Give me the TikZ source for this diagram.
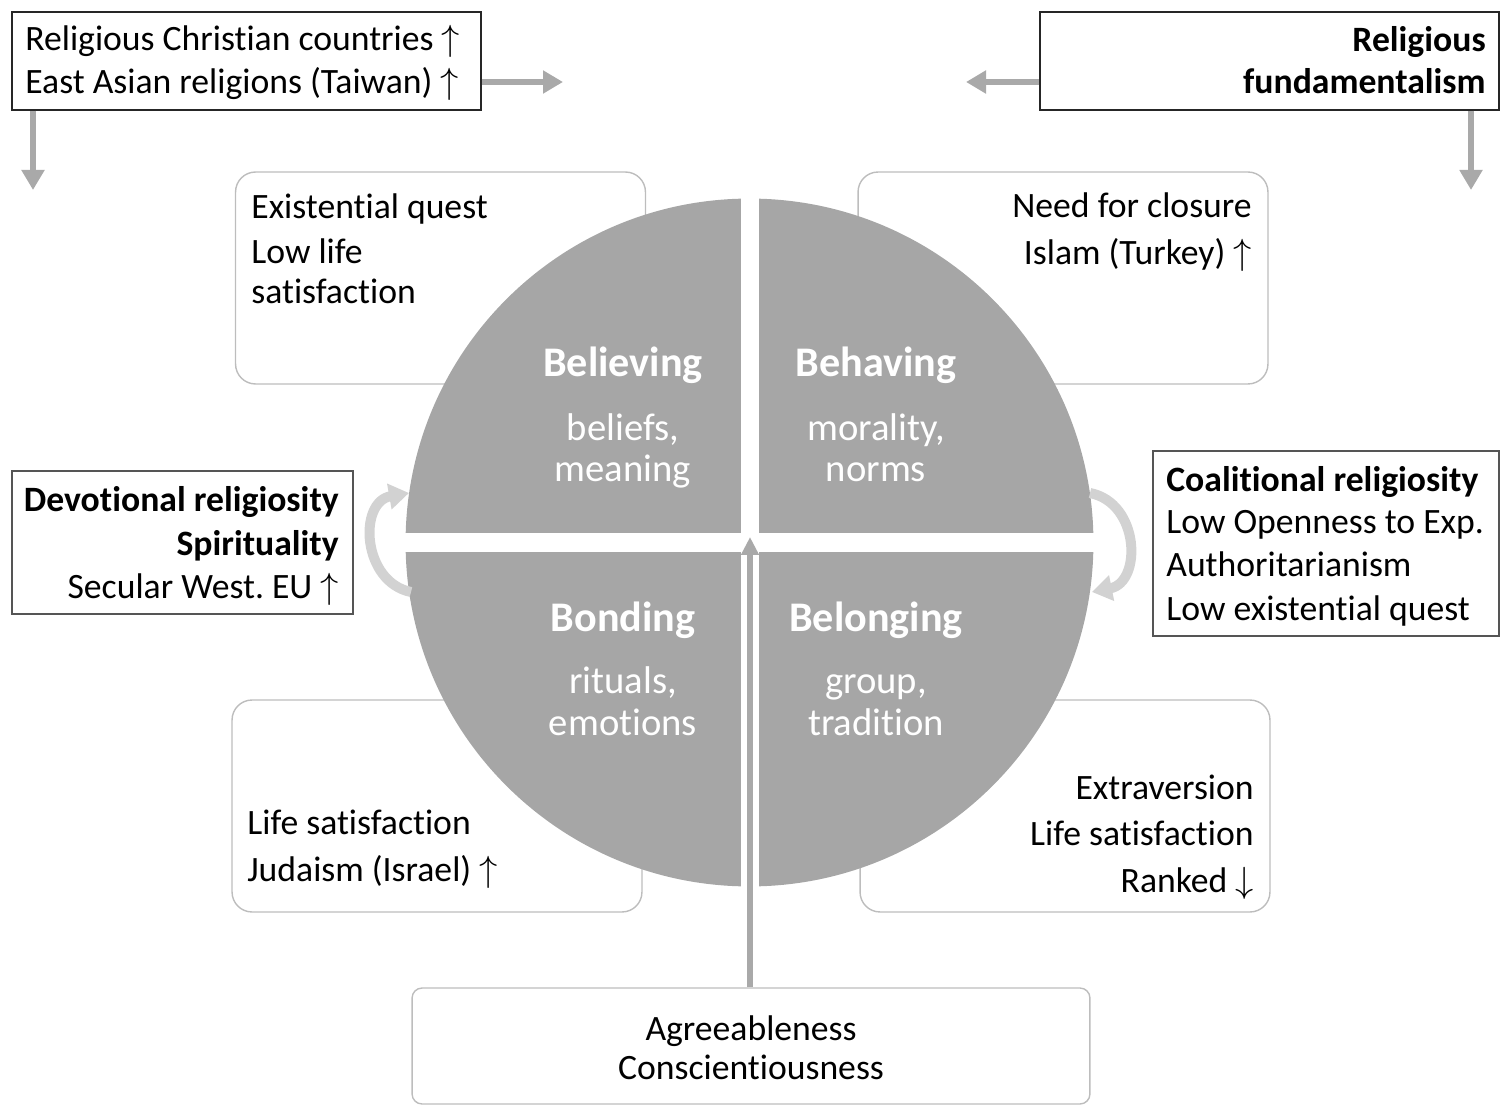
\documentclass[tikz,border=0pt]{standalone}
\usepackage{fontspec}
\setmainfont[Ligatures={NoCommon}]{Carlito}
\usetikzlibrary{arrows.meta}
\definecolor{qgray}{HTML}{A6A6A6}
\definecolor{agray}{HTML}{A9A9A9}
\definecolor{cgray}{HTML}{D2D2D2}
\definecolor{rgray}{HTML}{BDBDBD}
\definecolor{dgray}{HTML}{555555}
\begin{document}
\begin{tikzpicture}[x=0.02cm,y=-0.02cm,
  sqbox/.style={draw=black!85, line width=0.8pt, inner sep=0pt},
  sidebox/.style={draw=dgray, line width=0.9pt, inner sep=0pt},
  rbox/.style={draw=rgray, line width=0.8pt, rounded corners=0.4cm, inner sep=0pt, minimum width=8.2cm, minimum height=4.24cm},
  txt/.style={inner sep=0pt, font=\fontsize{20.3}{24}\selectfont, text=black},
  btxt/.style={txt, font=\fontsize{20.3}{24}\selectfont\bfseries},
  qtitle/.style={inner sep=0pt, anchor=base, text=white, font=\fontsize{24}{28}\selectfont\bfseries},
  qsub/.style={inner sep=0pt, anchor=base, text=white, font=\fontsize{22}{26}\selectfont},
  garrow/.style={draw=agray, line width=0.13cm, -{Triangle[length=0.4cm,width=0.44cm]}},
  carrow/.style={draw=cgray, line width=0.2cm, -{Triangle[length=0.4cm,width=0.5cm]}}]
\useasboundingbox (0,0) rectangle (1507,1114);

% rounded boxes (behind circle)
\node[rbox] (rtl) at (440.5,278) {};
\node[rbox] (rtr) at (1063,278) {};
\node[rbox] (rbl) at (437,806) {};
\node[rbox] (rbr) at (1065,806) {};

% circle
\node[circle, fill=qgray, minimum size=13.76cm, inner sep=0pt] (circ) at (749.5,542.5) {};
\draw[white, line width=0.36cm] (circ.north) ++(0,-5) -- ([yshift=-0.1cm]circ.south);
\draw[white, line width=0.38cm] ([xshift=-0.1cm]circ.west) -- ([xshift=0.1cm]circ.east);

% quadrant texts
\node[qtitle] (qbel) at (623,377) {Believing};
\node[qsub] (qbel1) at (623,440) {beliefs,};
\node[qsub] (qbel2) at (623,481) {meaning};
\node[qtitle] (qbeh) at (876,377) {Behaving};
\node[qsub] (qbeh1) at (876,440) {morality,};
\node[qsub] (qbeh2) at (876,481) {norms};
\node[qtitle] (qbon) at (623,631) {Bonding};
\node[qsub] (qbon1) at (623,693) {rituals,};
\node[qsub] (qbon2) at (623,735) {emotions};
\node[qtitle] (qblg) at (876,631) {Belonging};
\node[qsub] (qblg1) at (876,693) {group,};
\node[qsub] (qblg2) at (876,735) {tradition};

% top boxes
\node[sqbox, minimum width=9.38cm, minimum height=1.96cm] (tlbox) at (246.5,61) {};
\node[txt, anchor=base west] (tl1) at (25,51) {Religious Christian countries\ $\uparrow$};
\node[txt, anchor=base west] (tl2) at (25,94) {East Asian religions (Taiwan)\ $\uparrow$};
\node[sqbox, minimum width=9.18cm, minimum height=1.96cm] (trbox) at (1269.5,61) {};
\node[btxt, anchor=base east] (tr1) at (1486,52) {Religious};
\node[btxt, anchor=base east] (tr2) at (1486,94) {fundamentalism};

% arrows from top boxes
\coordinate (tlR) at (563,82);
\coordinate (tlD) at (33,190);
\coordinate (trL) at (966,82);
\coordinate (trD) at (1471,190);
\draw[garrow] (tlbox.east |- tlR) -- (tlR);
\draw[garrow] (tlbox.south -| tlD) -- (tlD);
\draw[garrow] (trbox.west |- trL) -- (trL);
\draw[garrow] (trbox.south -| trD) -- (trD);

% rounded box texts
\node[txt, anchor=base west] (a1) at (251,219) {Existential quest};
\node[txt, anchor=base west] (a2) at (251,264) {Low life};
\node[txt, anchor=base west] (a3) at (251,304) {satisfaction};
\node[txt, anchor=base east] (b1) at (1252,218) {Need for closure};
\node[txt, anchor=base east] (b2) at (1252,265) {Islam (Turkey)\ $\uparrow$};
\node[txt, anchor=base west] (c1) at (247,834) {Life satisfaction};
\node[txt, anchor=base west] (c2) at (247,881) {Judaism (Israel)\ $\uparrow$};
\node[txt, anchor=base east] (d1) at (1254,799) {Extraversion};
\node[txt, anchor=base east] (d2) at (1254,845) {Life satisfaction};
\node[txt, anchor=base east] (d3) at (1254,892) {Ranked\ $\downarrow$};

% bottom box
\node[rbox, minimum width=13.56cm, minimum height=2.32cm, rounded corners=0.2cm] (bot) at (751,1046) {};
\node[txt, anchor=base] (e1) at (751,1040) {Agreeableness};
\node[txt, anchor=base] (e2) at (751,1079) {Conscientiousness};
\coordinate (ctip) at (750,537);
\draw[draw=agray, line width=0.12cm, -{Triangle[length=0.36cm,width=0.34cm]}] (bot.north -| ctip) -- (ctip);

% side boxes
\node[sidebox, minimum width=6.82cm, minimum height=2.86cm] (lbox) at (182.5,542.5) {};
\node[btxt, anchor=base east] (l1) at (339,511) {Devotional religiosity};
\node[btxt, anchor=base east] (l2) at (339,555) {Spirituality};
\node[txt, anchor=base east] (l3) at (339,598) {Secular West.\ EU\ $\uparrow$};
\node[sidebox, minimum width=6.92cm, minimum height=3.7cm] (rbox2) at (1326,543.5) {};
\node[btxt, anchor=base west] (r1) at (1166,491) {Coalitional religiosity};
\node[txt, anchor=base west] (r2) at (1166,533) {Low Openness to Exp.};
\node[txt, anchor=base west] (r3) at (1166,576) {Authoritarianism};
\node[txt, anchor=base west] (r4) at (1166,620) {Low existential quest};

% curved arrows
\coordinate (lc1) at (411,592);
\coordinate (lc2) at (409,493);
\coordinate (rc1) at (1090,493);
\coordinate (rc2) at (1092,592);
\draw[carrow] (lc1) .. controls (362,582) and (358,502) .. (lc2);
\draw[carrow] (rc1) .. controls (1140,503) and (1142,582) .. (rc2);
\end{tikzpicture}
\end{document}
